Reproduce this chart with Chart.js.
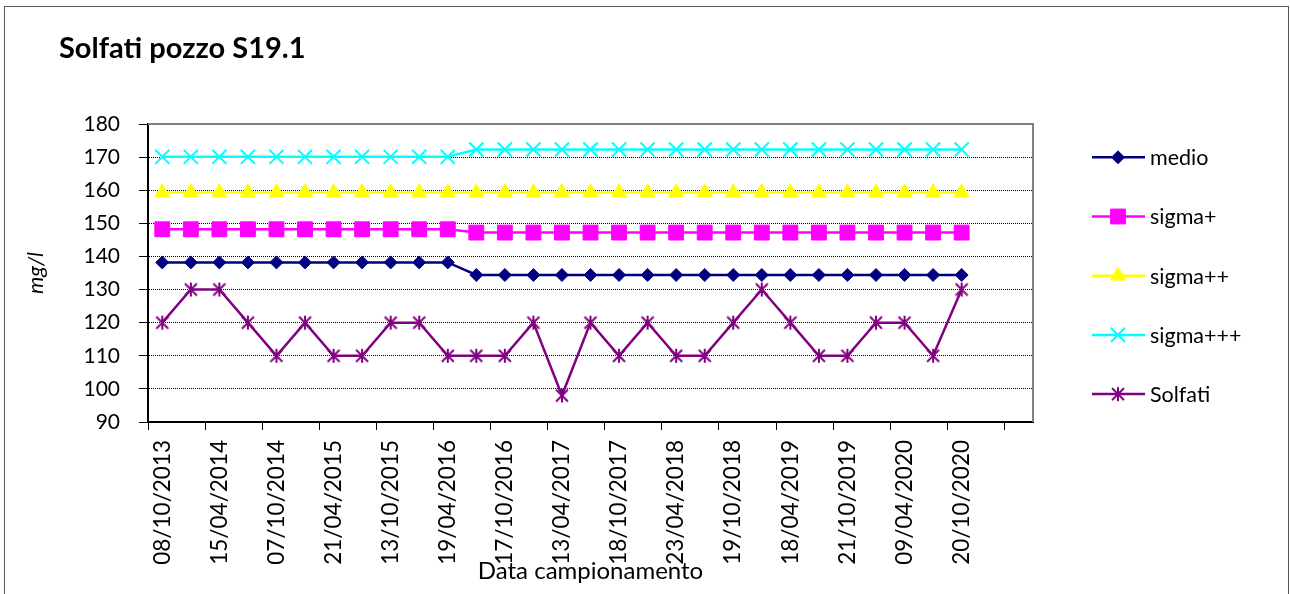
<!DOCTYPE html>
<html lang="it">
<head>
<meta charset="UTF-8">
<title>Solfati pozzo S19.1</title>
<script src="https://cdn.jsdelivr.net/npm/chart.js"></script>
<style>
  body { margin: 0; background: #fff; }
  /* outer frame of the chart object */
  .frame {
    position: absolute; left: 4px; top: 6px; width: 1283px; height: 620px;
    border: 1px solid #5a5a5a; border-bottom: none;
  }
  .wrap { position: absolute; left: 0; top: 0; width: 1290px; height: 594px; }
</style>
</head>
<body>
<div class="frame"></div>
<div class="wrap"><canvas id="chart"></canvas></div>
<script>
// sampling dates (only every other one is printed on the axis)
var categories = ['08/10/2013', '', '15/04/2014', '', '07/10/2014', '', '21/04/2015', '',
  '13/10/2015', '', '19/04/2016', '', '17/10/2016', '', '13/04/2017', '', '18/10/2017', '',
  '23/04/2018', '', '19/10/2018', '', '18/04/2019', '', '21/10/2019', '', '09/04/2020', '',
  '20/10/2020', '', ''];

var medio = [138.2, 138.2, 138.2, 138.2, 138.2, 138.2, 138.2, 138.2, 138.2, 138.2, 138.2,
  134.4, 134.4, 134.4, 134.4, 134.4, 134.4, 134.4, 134.4, 134.4, 134.4, 134.4, 134.4, 134.4,
  134.4, 134.4, 134.4, 134.4, 134.4];
var sigma1 = [148.2, 148.2, 148.2, 148.2, 148.2, 148.2, 148.2, 148.2, 148.2, 148.2, 148.2,
  147.2, 147.2, 147.2, 147.2, 147.2, 147.2, 147.2, 147.2, 147.2, 147.2, 147.2, 147.2, 147.2,
  147.2, 147.2, 147.2, 147.2, 147.2];
var sigma2 = [159.3, 159.3, 159.3, 159.3, 159.3, 159.3, 159.3, 159.3, 159.3, 159.3, 159.3,
  159.3, 159.3, 159.3, 159.3, 159.3, 159.3, 159.3, 159.3, 159.3, 159.3, 159.3, 159.3, 159.3,
  159.3, 159.3, 159.3, 159.3, 159.3];
var sigma3 = [170.1, 170.1, 170.1, 170.1, 170.1, 170.1, 170.1, 170.1, 170.1, 170.1, 170.1,
  172.3, 172.3, 172.3, 172.3, 172.3, 172.3, 172.3, 172.3, 172.3, 172.3, 172.3, 172.3, 172.3,
  172.3, 172.3, 172.3, 172.3, 172.3];
var solfati = [120, 130, 130, 120, 110, 120, 110, 110, 120, 120, 110, 110, 110, 120, 98,
  120, 110, 120, 110, 110, 120, 130, 120, 110, 110, 120, 120, 110, 130];

var yTicks = { min: 90, max: 180, step: 10 };

var FONT = 'Lato';

// excel style asterisk marker
function starMarker(color) {
  var c = document.createElement('canvas');
  c.width = 16; c.height = 16;
  var g = c.getContext('2d');
  g.strokeStyle = color; g.lineWidth = 2;
  g.beginPath();
  g.moveTo(8, 1); g.lineTo(8, 15);
  g.moveTo(2, 2); g.lineTo(14, 14);
  g.moveTo(14, 2); g.lineTo(2, 14);
  g.stroke();
  return c;
}

function series(label, data, color, style, radius) {
  return {
    label: label,
    data: data,
    borderColor: color,
    backgroundColor: color,
    borderWidth: 2.5,
    pointStyle: style,
    pointRadius: radius,
    pointBorderWidth: style === 'crossRot' ? 2 : 1,
    pointBackgroundColor: color,
    pointBorderColor: color,
    tension: 0,
    fill: false
  };
}

// title, plot frame (top/right) and legend drawn by hand
var decorations = {
  id: 'decorations',
  afterDatasetsDraw: function (chart) {
    var ctx = chart.ctx, a = chart.chartArea;
    ctx.save();
    ctx.strokeStyle = '#808080';
    ctx.lineWidth = 2;
    ctx.beginPath();
    ctx.moveTo(a.left, a.top);
    ctx.lineTo(a.right, a.top);
    ctx.lineTo(a.right, a.bottom);
    ctx.stroke();
    ctx.restore();
  },
  afterDraw: function (chart) {
    var ctx = chart.ctx;
    ctx.save();
    ctx.fillStyle = '#000';
    ctx.font = 'bold 29px ' + FONT;
    ctx.textBaseline = 'alphabetic';
    ctx.fillText('Solfati pozzo S19.1', 59, 58);

    ctx.font = '21.5px ' + FONT;
    ctx.textBaseline = 'middle';
    chart.data.datasets.forEach(function (ds, i) {
      var y = 157.3 + i * 59.2;
      ctx.strokeStyle = ds.borderColor;
      ctx.lineWidth = 2.5;
      ctx.beginPath();
      ctx.moveTo(1092, y);
      ctx.lineTo(1145, y);
      ctx.stroke();
      ctx.fillStyle = ds.pointBackgroundColor;
      ctx.lineWidth = ds.pointBorderWidth;
      Chart.helpers.drawPoint(ctx, { pointStyle: ds.pointStyle, radius: ds.pointRadius, rotation: 0, borderWidth: ds.pointBorderWidth }, 1118, y);
      ctx.fillStyle = '#000';
      ctx.fillText(ds.label, 1150, y + 1);
    });
    ctx.restore();
  }
};

new Chart(document.getElementById('chart'), {
  type: 'line',
  data: {
    labels: categories,
    datasets: [
      series('medio', medio, '#000080', 'rectRot', 6.5),
      series('sigma+', sigma1, '#FF00FF', 'rect', 10.5),
      series('sigma++', sigma2, '#FFFF00', 'triangle', 8.7),
      series('sigma+++', sigma3, '#00FFFF', 'crossRot', 10),
      series('Solfati', solfati, '#800080', starMarker('#800080'), 8)
    ]
  },
  options: {
    responsive: true,
    maintainAspectRatio: false,
    animation: false,
    events: [],
    layout: { padding: { left: 20, top: 124, right: 257, bottom: 0 } },
    plugins: { legend: { display: false }, tooltip: { enabled: false } },
    scales: {
      x: {
        offset: true,
        afterFit: function (s) { s.height = 172; },
        grid: {
          offset: true,
          drawOnChartArea: false,
          tickLength: 8,
          tickWidth: 1,
          tickColor: function (c) { return c.index % 2 === 0 ? '#000' : 'transparent'; }
        },
        border: { color: '#000', width: 2 },
        ticks: {
          autoSkip: false, minRotation: 90, maxRotation: 90, padding: 10,
          color: '#000', font: { family: FONT, size: 22.5 }
        },
        title: {
          display: true, text: 'Data campionamento', color: '#000',
          font: { family: FONT, size: 24 }, padding: { top: 0, bottom: 8 }
        }
      },
      y: {
        min: yTicks.min,
        max: yTicks.max,
        afterFit: function (s) { s.width = 128; },
        grid: {
          color: function (c) { return (c.tick.value === yTicks.min || c.tick.value === yTicks.max) ? 'transparent' : '#000'; },
          lineWidth: 1,
          tickLength: 9,
          tickWidth: 1,
          tickColor: '#000',
          tickBorderDash: []
        },
        border: { color: '#000', width: 2, dash: [1, 1] },
        ticks: {
          stepSize: yTicks.step, padding: 19,
          color: '#000', font: { family: FONT, size: 21 }
        },
        title: {
          display: true, text: 'mg/l', color: '#000',
          font: { family: FONT, size: 22, style: 'italic' }, padding: { top: 3, bottom: 0 }
        }
      }
    }
  },
  plugins: [decorations]
});
</script>
</body>
</html>
